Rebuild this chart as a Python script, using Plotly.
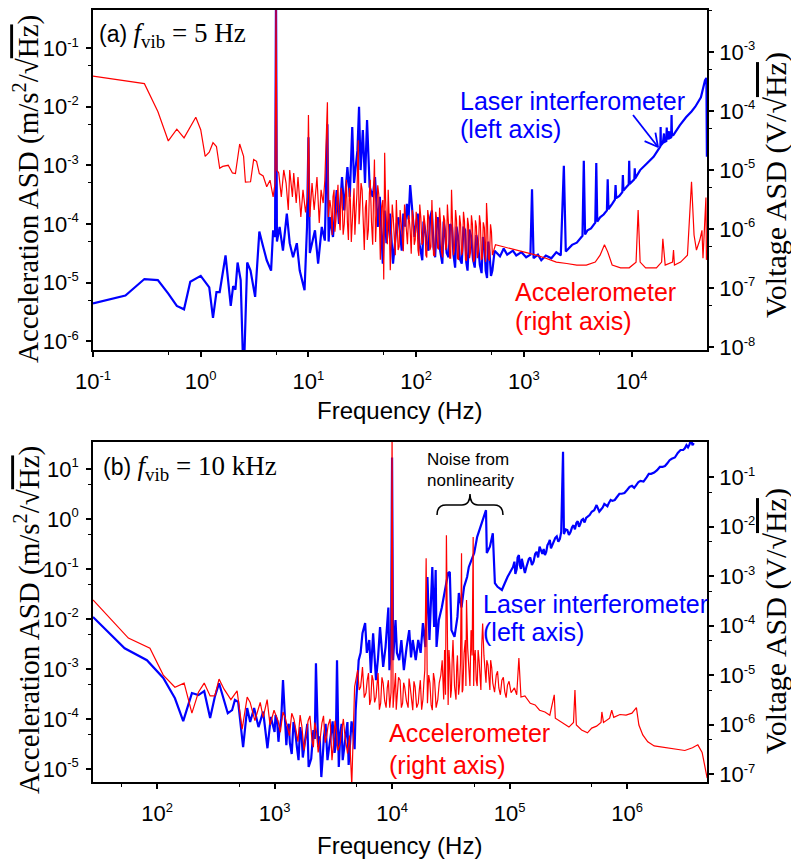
import plotly.graph_objects as go

W, H = 791, 862

# ---------------- Panel (a): f_vib = 5 Hz ----------------
# Laser interferometer (left axis, m/s^2/sqrt(Hz))
fa_las_low = [0.1, 0.2, 0.3, 0.4, 0.5, 0.6, 0.7, 0.8, 1.0, 1.2, 1.3, 1.4, 1.5, 1.7, 1.9, 2.0, 2.1, 2.2, 2.35, 2.5,
              2.7, 2.9, 3.2, 3.5, 3.8, 4.1, 4.5, 4.7, 4.9, 5.0, 5.1]
aa_las_low = [4.4e-6, 6e-6, 1.15e-5, 1.1e-5, 6.5e-6, 4e-6, 3.5e-6, 1.03e-5, 1.3e-5, 8.3e-6, 2.5e-6, 6.9e-6, 6.9e-6, 2.9e-5, 4e-6, 8.7e-6, 7.6e-6, 2.2e-5, 1.1e-5, 2e-7,
              2.2e-5, 1.6e-5, 5.7e-6, 7.4e-5, 4.1e-5, 2.4e-5, 1.6e-5, 7.8e-5, 6e-5, 1.0, 5e-5]
fa_las_mid = [5.4, 5.8, 6.3, 6.7, 7.2, 7.8, 8.3, 9.2, 9.7, 10.0, 10.3, 10.8, 11.5, 12.3, 13.3, 14.2, 15.0, 15.4, 15.8, 16.9,
              18.3, 19.2, 20.5, 21.5, 23, 24.2, 25.5, 26.5, 28.5, 29.5, 30.5, 32, 33.5, 35, 37, 39.5, 41.5, 44, 46, 49,
              51, 53, 55, 57, 61, 66, 71, 76, 82, 88, 93, 100, 107, 114, 120, 130, 140, 150, 160, 175,
              185, 200, 215, 230, 245, 265, 285, 300, 325, 350, 375, 405, 430, 455, 480, 510, 535]
aa_las_mid = [8.9e-5, 3.5e-5, 1.5e-4, 4.7e-5, 2.7e-5, 4.7e-5, 1.6e-5, 7.4e-6, 8.9e-5, 3e-3, 3.2e-5, 4.7e-5, 7.8e-5, 2.1e-5, 8.9e-5, 5.2e-5, 5e-3, 5e-5, 1.3e-4, 6e-5,
              3.8e-4, 1.0e-4, 6.3e-4, 1.7e-4, 9.3e-4, 2.9e-4, 4.5e-3, 5e-4, 1.8e-3, 1e-2, 8.3e-4, 4e-3, 5e-4, 5.9e-3, 4.3e-4, 2.9e-4, 6.3e-4, 8.9e-5, 2.9e-4, 2.1e-5,
              1.7e-4, 4.7e-5, 8.9e-5, 1.5e-4, 2.1e-5, 1.0e-4, 6e-5, 1.5e-4, 2.2e-4, 4.6e-4, 1.7e-4, 1.0e-4, 4.7e-5, 2.4e-5, 8.9e-5, 3.5e-5, 1.7e-4, 2.7e-5, 1.3e-4, 2.1e-5,
              7.8e-5, 2.7e-5, 8.9e-5, 1.8e-5, 6e-5, 2.1e-5, 7.8e-5, 1.6e-5, 6e-5, 1.8e-5, 4.7e-5, 1.45e-5, 4.7e-5, 1.2e-5, 3.2e-5, 1.6e-5, 3.5e-5]
fa_las_mid2 = [63, 68.5, 73.5, 79, 85, 90.5, 96.5, 103.5, 110.5, 117, 125, 135, 145, 155, 167, 180, 192, 207, 222, 237,
               255, 275, 292, 312, 337, 362, 390, 417, 442, 467, 495]
aa_las_mid2 = [4e-5, 1.3e-4, 3.5e-5, 9e-5, 1.2e-4, 2.5e-4, 6e-5, 1.5e-4, 3e-5, 1.1e-4, 5e-5, 1.3e-4, 4e-5, 1.0e-4, 3.5e-5, 1.1e-4, 3.2e-5, 1.0e-4, 3e-5, 9e-5,
               2.5e-5, 9e-5, 2.2e-5, 8e-5, 2.5e-5, 6.5e-5, 2e-5, 6e-5, 1.6e-5, 5e-5, 1.3e-5]
fa_las_high = [600, 650, 700, 790, 850, 950, 1050, 1150, 1190, 1230, 1350, 1450, 1600, 1800, 2000, 2200, 2350, 2450, 2600, 2800,
               3100, 3350, 3500, 3600, 3700, 3900, 4200, 4600, 4700, 4800, 5100, 5500, 5900, 6000, 6100, 6600, 7000, 7100, 7200, 7700,
               8200, 8300, 8400, 9000, 9400, 9500, 9600, 10600, 10700, 10800, 12000, 14000, 16000, 17500, 18500, 18600, 18700, 19500, 20000, 20200,
               21000, 21200, 21400, 22300, 22500, 23300, 23500, 23700, 24500, 28000, 32000, 36000, 39000, 44000, 48000, 49500, 50000]
aa_las_high = [2.8e-5, 3.8e-5, 3e-5, 3.5e-5, 2.9e-5, 3.3e-5, 2.7e-5, 3e-5, 3.9e-4, 2.6e-5, 3e-5, 2.4e-5, 2.9e-5, 2.6e-5, 3.3e-5, 2.9e-5, 9.8e-4, 3.4e-5, 3.8e-5, 4.4e-5,
               4.8e-5, 5.8e-5, 6.3e-5, 1.2e-3, 6.6e-5, 7.8e-5, 8.4e-5, 1.05e-4, 1.1e-3, 1.1e-4, 1.3e-4, 1.45e-4, 1.7e-4, 5.8e-4, 1.8e-4, 2.2e-4, 2.6e-4, 4.6e-4, 2.75e-4, 3.0e-4,
               3.5e-4, 6.8e-4, 3.7e-4, 4.3e-4, 4.7e-4, 1.2e-3, 4.8e-4, 5.8e-4, 8.9e-4, 6e-4, 8.3e-4, 1.1e-3, 1.4e-3, 1.8e-3, 2.1e-3, 4.5e-3, 2.2e-3, 2.4e-3, 3.5e-3, 2.5e-3,
               2.6e-3, 4.4e-3, 2.75e-3, 3.8e-3, 2.9e-3, 3e-3, 7.2e-3, 3.2e-3, 3.3e-3, 4.8e-3, 6.6e-3, 8.3e-3, 1e-2, 1.45e-2, 2.8e-2, 3.1e-2, 1.4e-3]

# Accelerometer (right axis, V/sqrt(Hz))
fa_acc_low = [0.1, 0.3, 0.4, 0.5, 0.6, 0.7, 0.9, 1.0, 1.1, 1.2, 1.3, 1.4, 1.5, 1.6, 1.8, 1.97, 2.1, 2.3, 2.5, 2.6,
              2.9, 3.1, 3.3, 3.5, 3.8, 4.1, 4.4, 4.7, 4.9, 5.0, 5.1]
va_acc_low = [3.9e-4, 2.9e-4, 9.8e-5, 3.1e-5, 4.9e-5, 3.5e-5, 7.8e-5, 4.8e-5, 1.7e-5, 2.0e-5, 2.9e-5, 2.5e-5, 1.07e-5, 1.15e-5, 1.2e-5, 8.9e-6, 8.7e-6, 2.75e-5, 1.7e-5, 6.2e-6,
              6.3e-6, 1.5e-5, 1.4e-5, 8.7e-6, 7.9e-6, 5.2e-6, 6.7e-6, 3.5e-6, 6e-6, 6e-3, 1e-5]
fa_acc_mid = [5.3, 5.6, 5.9, 6.2, 6.5, 6.7, 7.1, 7.3, 7.7, 8.0, 8.5, 8.9, 9.4, 9.8, 10.0, 10.3, 10.8, 11.3, 12.0, 12.6,
              13.1, 13.7, 14.2, 15.0, 15.3]
va_acc_mid = [8.9e-6, 3.5e-6, 1e-5, 6e-6, 2.1e-6, 1e-5, 3.5e-6, 8.9e-6, 2.75e-6, 7.6e-6, 1.6e-6, 4.6e-6, 1.9e-6, 3.5e-6, 8.5e-5, 1.6e-6, 6e-6, 2.1e-6, 7.6e-6, 1.26e-6,
              4.6e-6, 2.75e-6, 6.7e-6, 1.4e-4, 1.6e-6]
fa_acc_dense = [15.8, 16.6, 17.3, 18.0, 18.8, 19.7, 20.5, 21.5, 22.5, 23.5, 24.5, 25.5, 26.5, 27.5, 29, 30, 31.5, 33, 34.5, 36,
                37.5, 39.5, 41, 43, 45, 46.5, 49, 50, 51, 53, 55, 57.5, 60, 62.5, 65.5, 68, 71, 74, 78, 81,
                85, 88, 92, 96, 100, 104, 108, 113, 118, 123, 128, 134, 140, 145, 152, 158, 165, 172, 180, 188,
                195, 205, 213, 222, 232, 242, 253, 264, 275, 287, 300, 313, 326, 340, 355, 370, 387, 403, 420, 440,
                450, 468, 490, 510]
va_acc_dense = [3.1e-6, 7.9e-7, 4.6e-6, 1.4e-6, 5.6e-6, 9.5e-7, 3.8e-6, 1.2e-6, 6.8e-6, 6.5e-7, 3.1e-6, 1.05e-6, 4.9e-6, 1.7e-6, 3.2e-5, 2.1e-6, 4.6e-6, 4.4e-7, 3.1e-6, 9.5e-7,
                6.8e-6, 5.4e-7, 1.5e-5, 1.7e-6, 3.8e-6, 3e-7, 3.1e-6, 1.4e-7, 1.95e-5, 9.5e-7, 4.6e-6, 2e-7, 2.6e-6, 6.5e-7, 3.1e-6, 4.4e-7, 2.1e-6, 6.5e-7, 2.6e-6, 7.9e-7,
                1.7e-6, 9.5e-7, 2.1e-6, 5.4e-7, 1.95e-6, 4.4e-7, 2.6e-6, 5.4e-7, 1.7e-6, 3.6e-7, 2.1e-6, 4.4e-7, 3.1e-6, 3.6e-7, 1.95e-6, 4.8e-7, 2.3e-6, 4.1e-7, 1.7e-6, 4.4e-7,
                2.6e-6, 3.2e-7, 4.6e-6, 3.6e-7, 2.1e-6, 3.2e-7, 1.7e-6, 3.6e-7, 1.95e-6, 3e-7, 1.55e-6, 3.2e-7, 1.7e-6, 2.75e-7, 1.4e-6, 3.2e-7, 1.7e-6, 3e-7, 1.3e-6, 2.75e-7,
                2.75e-6, 3.2e-7, 1.2e-6, 3.6e-7]
fa_acc_dense2 = [16.2, 16.9, 17.6, 18.4, 19.2, 20.1, 21.0, 22.0, 23.0, 24.0, 25.0, 26.0, 27.0, 28.2, 29.5, 30.8, 32.2, 33.8, 35.2, 36.8,
                 38.5, 40.2, 42, 44, 45.8, 47.8, 50.5, 52, 54, 56, 58.8, 61.2, 64, 66.8, 69.5, 72.5, 76, 79.5, 83, 86.5,
                 90, 94, 98, 102, 106, 110.5, 115.5, 120.5, 125.5, 131, 137, 142.5, 148.5, 155, 161.5, 168.5, 176, 184, 191.5, 200,
                 209, 217.5, 227, 237, 247.5, 258.5, 269.5, 281, 293.5, 306.5, 319.5, 333, 347.5, 362.5, 378.5, 395, 411.5, 430, 445, 459,
                 479, 500]
va_acc_dense2 = [2.2e-6, 3.5e-6, 9e-7, 3e-6, 1.6e-6, 5e-6, 8e-7, 3e-6, 1.3e-6, 5e-6, 6e-7, 2.5e-6, 8e-7, 4e-6, 1.2e-6, 6e-6, 1.1e-6, 2.3e-6, 6.5e-7, 4e-6,
                 1.3e-6, 3.5e-6, 6e-7, 5.5e-6, 1.2e-6, 2.4e-6, 9e-7, 3.2e-6, 5.5e-7, 1.9e-6, 9.5e-7, 1.6e-6, 3.6e-7, 1.5e-6, 5e-7, 1.3e-6, 4.2e-7, 1.5e-6, 5.5e-7, 1.4e-6,
                 3.8e-7, 1.5e-6, 6.5e-7, 1.3e-6, 3.5e-7, 1.55e-6, 6e-7, 1.25e-6, 3.3e-7, 1.5e-6, 5e-7, 1.2e-6, 3.5e-7, 1.45e-6, 4.5e-7, 1.25e-6, 3.3e-7, 1.4e-6, 5e-7, 1.15e-6,
                 3.2e-7, 1.3e-6, 4.6e-7, 1.4e-6, 3e-7, 1.2e-6, 4.2e-7, 1.35e-6, 2.9e-7, 1.15e-6, 4e-7, 1.2e-6, 3e-7, 1.1e-6, 4.2e-7, 1.25e-6, 3.2e-7, 1.05e-6, 4.5e-7, 1.3e-6,
                 2.9e-7, 9e-7]
fa_acc_high = [545, 670, 850, 1030, 1300, 1600, 2000, 2500, 3100, 3800, 4600, 5100, 5600, 6000, 6600, 7900, 9500, 11000, 11500, 12000,
               13500, 17000, 19000, 19500, 20500, 24000, 24500, 25000, 28500, 33000, 35000, 36000, 38000, 40000, 43000, 45000, 46000, 49000, 49500, 50000]
va_acc_high = [5.4e-7, 4.9e-7, 4.4e-7, 4.1e-7, 3.6e-7, 3.2e-7, 2.75e-7, 2.6e-7, 2.45e-7, 2.45e-7, 2.75e-7, 3.6e-7, 5.4e-7, 4.1e-7, 2.45e-7, 2.2e-7, 2.2e-7, 2.75e-7, 2.1e-6, 2.75e-7,
               2.2e-7, 2.2e-7, 2.75e-7, 6.8e-7, 2.45e-7, 2.75e-7, 4.4e-7, 2.45e-7, 2.75e-7, 3.6e-7, 3.8e-6, 6.3e-6, 7.9e-7, 4.4e-7, 6.5e-7, 9.5e-7, 3.2e-7, 3.4e-6, 3e-7, 4.4e-7]

# ---------------- Panel (b): f_vib = 10 kHz ----------------
fb_las_low = [28.5, 53, 82, 113, 142, 167, 198, 225, 252, 283, 310, 337, 400, 435, 460, 490, 540, 585, 620, 670,
              730, 800, 870, 930, 1000, 1050, 1100, 1180, 1230, 1290, 1350, 1450, 1550, 1650, 1740, 1860, 1950, 2140, 2250, 2350,
              2500, 2630, 2820, 3000, 3240, 3400, 3630, 3800, 4170, 4360, 4680, 4900]
ab_las_low = [1.1e-2, 2.6e-3, 1.5e-3, 6.6e-4, 2.6e-4, 9.1e-5, 3.3e-4, 3e-4, 3.6e-4, 1.05e-4, 2.75e-4, 5.2e-4, 1.3e-4, 1.5e-4, 2.4e-4, 2.2e-4, 2.75e-5, 1.66e-4, 8.7e-5, 1.66e-4,
              6.9e-5, 1.4e-4, 2.6e-5, 1.1e-4, 5.5e-5, 9.5e-5, 6e-5, 6e-4, 6e-5, 6.9e-5, 3.3e-5, 8.7e-5, 2.75e-5, 6.9e-5, 1.7e-5, 5.2e-5, 1.1e-5, 6e-5, 1.3e-3, 2.75e-5,
              6.9e-6, 4.4e-5, 1.5e-5, 5.2e-5, 2.1e-5, 1.5e-3, 5.2e-5, 1.5e-5, 8.7e-5, 2.75e-5, 5.2e-5, 1.5e-4]
fb_las_low2 = [1020, 1080, 1140, 1260, 1320, 1400, 1500, 1600, 1700, 1800, 1900, 2050, 2200, 2420, 2560, 2720, 2900, 3120, 3320, 3520,
               3720, 3980, 4270, 4520, 4800]
ab_las_low2 = [1.2e-4, 3.5e-5, 1.0e-4, 3e-5, 8e-5, 2e-5, 5.5e-5, 1.5e-5, 4.5e-5, 3e-5, 8e-5, 1.6e-5, 4e-5, 4.5e-5, 1.5e-5, 8e-5, 2.5e-5, 9e-5, 3e-5, 1.1e-5,
               8e-5, 3.5e-5, 1.2e-5, 9e-5, 2.5e-5]
fb_las_mid = [5100, 5200, 5400, 5600, 5900, 6100, 6400, 6600, 6900, 7300, 7600, 7900, 8400, 8800, 9300, 9500, 9800, 10000, 10200, 10700,
              11000, 11500, 12000, 12600, 13300, 14000, 14500, 15000, 15900, 16700, 17500, 18300, 19200, 20000, 20800, 22000, 22800, 23500, 23900, 25000,
              26500, 28000, 30000, 31000, 32000, 34000, 36000, 37000, 39000, 41000, 43500, 45000, 48000, 50000, 53000, 56000, 59000, 63000, 64000, 68000,
              72000, 75000, 79000, 86000, 91000, 96000]
ab_las_mid = [6.9e-4, 1.5e-3, 2.1e-3, 5.2e-3, 8.3e-3, 2.1e-3, 3.8e-3, 8.3e-4, 5.2e-3, 6e-4, 1.7e-3, 6.9e-3, 1.1e-3, 2.75e-3, 1.7e-2, 9.5e-4, 2.75e-3, 17, 1.5e-3, 9.5e-3,
              2.1e-3, 1.5e-3, 3.8e-3, 9.5e-4, 2.75e-3, 6e-3, 1.7e-3, 3.8e-3, 1.5e-3, 3.8e-3, 2.1e-3, 8.3e-3, 2.75e-3, 6.9e-2, 3.8e-3, 0.11, 6.9e-3, 9.5e-2, 2.75e-3, 9.5e-3,
              1.7e-2, 3.3e-2, 8.3e-2, 8.7e-2, 6e-3, 4.4e-3, 1.1e-2, 3.3e-2, 1.7e-2, 4.4e-2, 6.9e-2, 0.11, 0.17, 0.21, 0.44, 0.66, 0.95, 1.5, 0.21, 0.28,
              0.52, 5.2e-2, 4.4e-2, 3.8e-2, 5.2e-2, 6.9e-2]
fb_las_high = [1.07e5, 1.12e5, 1.17e5, 1.22e5, 1.27e5, 1.35e5, 1.42e5, 1.5e5, 1.6e5, 1.7e5, 1.8e5, 1.9e5, 2.0e5, 2.1e5, 2.2e5, 2.3e5, 2.45e5, 2.6e5, 2.75e5, 2.85e5,
               2.9e5, 3.1e5, 3.3e5, 3.5e5, 3.7e5, 3.9e5, 4.1e5, 4.35e5, 4.6e5, 5.0e5, 5.5e5, 5.8e5, 6.2e5, 6.6e5, 7.0e5, 7.5e5, 8.2e5, 9.0e5, 1.0e6, 1.1e6,
               1.2e6, 1.3e6, 1.47e6, 1.6e6, 1.8e6, 2.0e6, 2.2e6, 2.4e6, 2.7e6, 3.0e6, 3.2e6, 3.3e6, 3.5e6, 3.6e6, 3.7e6]
ab_las_high = [0.11, 0.08, 0.17, 0.12, 0.16, 0.083, 0.13, 0.17, 0.14, 0.22, 0.28, 0.2, 0.19, 0.3, 0.38, 0.3, 0.42, 0.35, 0.55, 22,
               0.5, 0.6, 0.55, 0.75, 0.83, 0.7, 0.95, 0.85, 1.1, 1.4, 1.9, 1.4, 1.7, 1.9, 2.1, 2.3, 2.75, 3.2, 3.8, 4.6,
               4.8, 5.8, 6.9, 8, 9.5, 11, 13, 16, 21, 24, 30, 27, 40, 30, 33]
fb_las_high2 = [1.1e5, 1.15e5, 1.2e5, 1.25e5, 1.31e5, 1.39e5, 1.46e5, 1.55e5, 1.65e5, 1.75e5, 1.85e5, 1.95e5, 2.05e5, 2.15e5, 2.25e5, 2.38e5, 2.52e5, 2.68e5, 3.0e5, 3.2e5,
                3.4e5, 3.6e5, 3.8e5, 4.0e5, 4.22e5, 4.48e5, 4.8e5, 5.25e5, 5.65e5, 6.0e5, 6.4e5, 6.8e5, 7.25e5, 7.85e5, 8.6e5, 9.5e5, 1.05e6, 1.15e6, 1.25e6, 1.38e6,
                1.53e6, 1.7e6, 1.9e6, 2.1e6, 2.3e6, 2.55e6, 2.85e6, 3.1e6, 3.4e6]
ab_las_high2 = [0.14, 0.1, 0.19, 0.1, 0.12, 0.11, 0.16, 0.12, 0.2, 0.17, 0.24, 0.25, 0.22, 0.33, 0.26, 0.36, 0.45, 0.4, 0.62, 0.48,
                0.68, 0.62, 0.9, 0.8, 1.0, 1.05, 1.2, 1.5, 1.6, 1.55, 2.0, 1.8, 2.4, 2.4, 3.2, 3.3, 4.4, 4.2, 5.5, 5.6,
                8, 8.5, 11, 11.5, 15, 17, 24, 26, 31]

fb_acc_low = [28.5, 57, 87, 113, 142, 170, 198, 225, 252, 283, 310, 337, 372, 425, 480, 530, 585, 620, 680, 755,
              800, 865, 915, 990, 1070, 1180, 1280, 1400, 1520, 1650, 1780, 1930, 2080, 2200, 2350, 2530, 2700, 2860, 3080, 3270,
              3450, 3730, 3980, 4180, 4540, 4800]
vb_acc_low = [3.3e-4, 5.6e-5, 3.5e-5, 1e-5, 5.7e-6, 6.9e-6, 1.7e-6, 4.5e-6, 6.9e-6, 3.8e-6, 3.8e-6, 8.3e-6, 5.2e-6, 3.2e-6, 4.8e-6, 8.1e-7, 3.6e-6, 2.8e-6, 1.2e-6, 2.8e-6,
              1.4e-6, 3.2e-6, 9.8e-7, 1.95e-6, 1.2e-6, 1.8e-6, 9.8e-7, 1.7e-6, 7.8e-7, 1.55e-6, 3e-7, 1.2e-6, 4.9e-7, 1.1e-6, 2.75e-7, 1.07e-6, 4.3e-7, 9.8e-7, 1.9e-7, 1.2e-6,
              3e-7, 8.9e-7, 5.6e-7, 2.6e-7, 6e-8, 5.8e-6]
fb_acc_low2 = [1030, 1120, 1230, 1340, 1460, 1580, 1710, 1850, 2000, 2140, 2280, 2440, 2610, 2780, 2970, 3170, 3360, 3600, 3850, 4080,
               4350]
vb_acc_low2 = [1.5e-6, 7e-7, 1.4e-6, 6e-7, 1.3e-6, 4.5e-7, 9e-7, 6e-7, 1.5e-6, 3.5e-7, 7e-7, 5e-7, 1.5e-6, 6e-7, 1.3e-6, 4e-7, 7e-7, 4e-7, 1.3e-6, 3.5e-7,
               6e-7]
fb_acc_mid = [5100, 5400, 5600, 6000, 6300, 6600, 6900, 7300, 7600, 8000, 8400, 8900, 9300, 9800, 10000, 10200, 10700, 11000, 11700, 12300,
              12800, 13700, 14200, 15000, 15700, 16700, 17400, 18300, 19000, 19500, 20000, 21000, 22000, 23000, 24500]
vb_acc_mid = [1.26e-5, 5.8e-6, 1.45e-5, 4.4e-6, 1.1e-5, 3.2e-6, 7.9e-6, 3.6e-6, 1.1e-5, 2.7e-6, 6.9e-6, 2.2e-6, 7.9e-6, 4.4e-6, 1.0, 2.2e-6, 1.1e-5, 3.6e-6, 7.9e-6, 2.7e-6,
              5.8e-6, 2.2e-6, 6.3e-6, 1.95e-6, 5.8e-6, 2.7e-6, 7.9e-6, 3.2e-6, 1.26e-5, 2.3e-3, 2.7e-6, 6.9e-6, 1.95e-6, 7.9e-6, 3.2e-6]
fb_acc_mid2 = [5250, 5500, 5800, 6150, 6450, 6750, 7100, 7450, 7800, 8200, 8650, 9100, 9550, 10450, 10850, 11350, 12000, 12550, 13250, 13950,
               14600, 15350, 16200, 17050, 17850, 18650, 20500, 21500, 22500, 23700, 25200, 26700, 28500, 29500, 30500, 31500, 32500, 34000, 35500, 36800,
               38200, 39500, 41000, 42500, 44000, 46000, 48000, 49500, 51000, 53000, 55000, 57000, 60500, 63000, 65500, 68000, 70500, 74500, 79000, 83500,
               88500, 93500, 99000]
vb_acc_mid2 = [5e-6, 9e-6, 3.5e-6, 8e-6, 2.5e-6, 1e-5, 2.8e-6, 6.5e-6, 2e-6, 9e-6, 3e-6, 5.5e-6, 2.2e-6, 5e-6, 2e-6, 9e-6, 2.2e-6, 7e-6, 3e-6, 8.5e-6,
               2.8e-6, 7.5e-6, 2.2e-6, 5e-6, 2e-6, 7e-6, 1e-5, 2.5e-6, 1.1e-5, 2.2e-6, 7e-6, 2e-5, 4e-6, 1.5e-5, 3.2e-5, 3.5e-6, 2.2e-5, 6e-6, 1.5e-5, 4e-6,
               1.7e-5, 4.5e-6, 2.8e-5, 6e-6, 3.5e-5, 6e-6, 2.5e-5, 6e-6, 3.2e-5, 6e-6, 2e-5, 5e-6, 2.5e-5, 7e-6, 1.6e-5, 5e-6, 1.4e-5, 4.5e-6, 1.2e-5, 4e-6,
               9e-6, 3.5e-6, 7.5e-6]
fb_acc_high = [26000, 27500, 28000, 29000, 30000, 31000, 32000, 33000, 35000, 36000, 37500, 39000, 40000, 42000, 43000, 45000, 47000, 49000, 50000, 52000,
               54000, 56000, 58000, 59000, 62000, 64000, 67000, 69000, 72000, 77000, 81000, 86000, 91000, 96000, 1.03e5, 1.1e5, 1.15e5, 1.2e5, 1.25e5, 1.35e5,
               1.5e5, 1.65e5, 1.8e5, 2.0e5, 2.2e5, 2.4e5, 2.45e5, 2.6e5, 2.9e5, 3.2e5, 3.5e5, 3.6e5, 3.7e5, 4.1e5, 4.6e5, 5.0e5, 5.5e5, 6.0e5, 6.1e5, 6.3e5,
               7.1e5, 7.4e5, 7.7e5, 8.7e5, 9.8e5, 1.1e6, 1.2e6, 1.26e6, 1.36e6, 1.5e6, 1.7e6, 2.1e6, 2.6e6, 3.1e6, 3.6e6, 4.0e6, 4.35e6, 4.6e6, 4.8e6]
vb_acc_high = [1e-5, 3.2e-6, 3.2e-5, 6.7e-3, 2.5e-6, 1.6e-5, 5e-6, 5.1e-5, 3.2e-6, 2.5e-5, 6.3e-6, 2.9e-3, 5e-6, 5.1e-5, 3.3e-4, 1.26e-5, 8.1e-5, 6.2e-3, 2e-5, 7.9e-6,
               3.2e-5, 1.15e-5, 4.1e-5, 1.1e-4, 1.26e-5, 2e-5, 7.9e-6, 2e-5, 6.9e-6, 1e-5, 5.5e-6, 7.9e-6, 4.6e-6, 6.3e-6, 4.4e-6, 5.5e-6, 4e-6, 2.2e-5, 3.6e-6, 3.8e-6,
               2.7e-6, 2.5e-6, 1.95e-6, 1.8e-6, 1.55e-6, 4e-6, 1.35e-6, 1.23e-6, 1.02e-6, 8.9e-7, 1.1e-6, 5e-6, 9.8e-7, 7.8e-7, 6.8e-7, 8.5e-7, 9.3e-7, 1.1e-6, 1.8e-6, 1.1e-6,
               1.35e-6, 1.95e-6, 1.4e-6, 1.6e-6, 1.55e-6, 1.7e-6, 2.2e-6, 9.8e-7, 6.2e-7, 4.5e-7, 3.7e-7, 3.4e-7, 3.2e-7, 3e-7, 3.4e-7, 3.9e-7, 2.75e-7, 1.5e-7, 8.3e-8]

# ---------------- Tick labels ----------------
xa_tickvals = [0.1, 1, 10, 100, 1e3, 1e4]
xa_exps = ["-1", "0", "1", "2", "3", "4"]
ya_l_tickvals = [1e-6, 1e-5, 1e-4, 1e-3, 1e-2, 1e-1]
ya_l_exps = ["-6", "-5", "-4", "-3", "-2", "-1"]
ya_r_tickvals = [1e-8, 1e-7, 1e-6, 1e-5, 1e-4, 1e-3]
ya_r_exps = ["-8", "-7", "-6", "-5", "-4", "-3"]
xb_tickvals = [1e2, 1e3, 1e4, 1e5, 1e6]
xb_exps = ["2", "3", "4", "5", "6"]
yb_l_tickvals = [1e-5, 1e-4, 1e-3, 1e-2, 1e-1, 1, 10]
yb_l_exps = ["-5", "-4", "-3", "-2", "-1", "0", "1"]
yb_r_tickvals = [1e-7, 1e-6, 1e-5, 1e-4, 1e-3, 1e-2, 1e-1]
yb_r_exps = ["-7", "-6", "-5", "-4", "-3", "-2", "-1"]

xa_minor = [0.5, 5, 50, 500, 5000]
ya_l_minor = [5e-6, 5e-5, 5e-4, 5e-3, 5e-2]
ya_r_minor = [5e-8, 5e-7, 5e-6, 5e-5, 5e-4, 5e-3]
xb_minor = [50, 500, 5e3, 5e4, 5e5]
yb_l_minor = [5e-6, 5e-5, 5e-4, 5e-3, 5e-2, 5e-1, 5]
yb_r_minor = [5e-7, 5e-6, 5e-5, 5e-4, 5e-3, 5e-2]

BLUE = "#0000ff"
RED = "#ff0000"
SANS = "Liberation Sans, Arial, sans-serif"
SERIF = "Liberation Serif, Times New Roman, serif"


def labels(exps):
    return ["10<sup><span style='font-size:13px'>" + e + "</span></sup>" for e in exps]


def merge(freq_lists, val_lists):
    pairs = sorted(zip([f for fl in freq_lists for f in fl], [v for vl in val_lists for v in vl]))
    return [p[0] for p in pairs], [p[1] for p in pairs]


xa_l, ya_l = merge([fa_las_low, fa_las_mid, fa_las_mid2, fa_las_high], [aa_las_low, aa_las_mid, aa_las_mid2, aa_las_high])
xa_r, ya_r = merge([fa_acc_low, fa_acc_mid, fa_acc_dense, fa_acc_dense2, fa_acc_high],
                   [va_acc_low, va_acc_mid, va_acc_dense, va_acc_dense2, va_acc_high])
xb_l, yb_l = merge([fb_las_low, fb_las_low2, fb_las_mid, fb_las_high, fb_las_high2],
                   [ab_las_low, ab_las_low2, ab_las_mid, ab_las_high, ab_las_high2])
xb_r, yb_r = merge([fb_acc_low, fb_acc_low2, fb_acc_mid, fb_acc_mid2, fb_acc_high],
                   [vb_acc_low, vb_acc_low2, vb_acc_mid, vb_acc_mid2, vb_acc_high])

fig = go.Figure()
fig.add_trace(go.Scatter(x=xa_l, y=ya_l, xaxis="x", yaxis="y", mode="lines", line=dict(color=BLUE, width=2.2)))
fig.add_trace(go.Scatter(x=xa_r, y=ya_r, xaxis="x", yaxis="y2", mode="lines", line=dict(color=RED, width=1.2)))
fig.add_trace(go.Scatter(x=xb_l, y=yb_l, xaxis="x2", yaxis="y3", mode="lines", line=dict(color=BLUE, width=2.2)))
fig.add_trace(go.Scatter(x=xb_r, y=yb_r, xaxis="x2", yaxis="y4", mode="lines", line=dict(color=RED, width=1.2)))
fig.update_traces(showlegend=False, hoverinfo="skip")


def axis(tickvals, exps, minor, rng, standoff, **kw):
    d = dict(type="log", range=rng, showline=True, linecolor="black", linewidth=1.6, automargin=False,
             ticks="outside", ticklen=5, tickwidth=1.5, tickcolor="black", ticklabelstandoff=standoff,
             showgrid=False, zeroline=False, tickmode="array", tickvals=tickvals, ticktext=labels(exps),
             tickfont=dict(family=SANS, size=22, color="black"),
             minor=dict(tickmode="array", tickvals=minor, ticks="outside", ticklen=3, tickwidth=1.2, tickcolor="black", showgrid=False))
    d.update(kw)
    return d


xdom = [93 / W, 707 / W]
ydom_a = [1 - 350 / H, 1 - 10 / H]
ydom_b = [1 - 782 / H, 1 - 442 / H]

fig.update_layout(
    width=W, height=H, autosize=False, margin=dict(l=0, r=0, t=0, b=0, pad=0),
    paper_bgcolor="white", plot_bgcolor="white", hovermode=False, showlegend=False,
    xaxis=axis(xa_tickvals, xa_exps, xa_minor, [-1, 4.70], 6, domain=xdom, anchor="y", mirror=True),
    yaxis=axis(ya_l_tickvals, ya_l_exps, ya_l_minor, [-6.15, -0.35], 3, domain=ydom_a, anchor="x"),
    yaxis2=axis(ya_r_tickvals, ya_r_exps, ya_r_minor, [-8.05, -2.29], 1, overlaying="y", anchor="x", side="right"),
    xaxis2=axis(xb_tickvals, xb_exps, xb_minor, [1.455, 6.68], 6, domain=xdom, anchor="y3", mirror=True),
    yaxis3=axis(yb_l_tickvals, yb_l_exps, yb_l_minor, [-5.26, 1.54], 3, domain=ydom_b, anchor="x2"),
    yaxis4=axis(yb_r_tickvals, yb_r_exps, yb_r_minor, [-7.16, -0.29], 1, overlaying="y3", anchor="x2", side="right"),
)


def P(px, py):
    return px / W, 1 - py / H


annots = []


def text(s, px, py, size, color="black", family=SANS, xanchor="left", angle=0):
    x, y = P(px, py)
    annots.append(dict(text=s, x=x, y=y, xref="paper", yref="paper", showarrow=False,
                       xanchor=xanchor, yanchor="middle", textangle=angle,
                       font=dict(family=family, size=size, color=color)))


sqrtHz = "√<span style='text-decoration:overline'>Hz</span>"
acc_title = "Acceleration ASD (m/s<sup>2</sup>/" + sqrtHz + ")"
volt_title = "Voltage ASD (V/" + sqrtHz + ")"

# axis titles
text(acc_title, 27, 189, 29, family=SERIF, xanchor="center", angle=-90)
text(volt_title, 776, 185, 30, family=SERIF, xanchor="center", angle=-90)
text(acc_title, 27, 620, 29, family=SERIF, xanchor="center", angle=-90)
text(volt_title, 776, 621, 30, family=SERIF, xanchor="center", angle=-90)
text("Frequency (Hz)", 400, 410, 24, xanchor="center")
text("Frequency (Hz)", 400, 845, 24, xanchor="center")

# panel labels
text("(a) <span style='font-family:Liberation Serif;font-size:27px'><i>f</i><sub>vib</sub> = 5 Hz</span>", 97, 35, 23)
text("(b) <span style='font-family:Liberation Serif;font-size:27px'><i>f</i><sub>vib</sub> = 10 kHz</span>", 101, 468, 23)

# series labels
text("Laser interferometer", 458, 101, 25, BLUE)
text("(left axis)", 458, 129, 25, BLUE)
text("Accelerometer", 513, 292, 25, RED)
text("(right axis)", 513, 321, 25, RED)
text("Laser interferometer", 481, 604, 25, BLUE)
text("(left axis)", 481, 632, 25, BLUE)
text("Accelerometer", 387, 733, 25, RED)
text("(right axis)", 387, 765, 25, RED)
text("Noise from", 425, 459, 17)
text("nonlinearity", 425, 480, 17)

fig.update_layout(annotations=annots)

# arrow (shaft + open head) and brace
shapes = []


def seg(p0, p1, color, width):
    x0, y0 = P(*p0)
    x1, y1 = P(*p1)
    shapes.append(dict(type="line", xref="paper", yref="paper", x0=x0, y0=y0, x1=x1, y1=y1,
                       line=dict(color=color, width=width)))


seg((633, 115), (658, 147), BLUE, 1.8)
seg((658, 147), (644.6, 141.1), BLUE, 1.8)
seg((658, 147), (655.4, 132.6), BLUE, 1.8)

brace_pts = [("M", 437, 515), ("Q", 437, 505, 446, 505), ("L", 462, 505), ("Q", 470, 505, 470, 494),
             ("Q", 470, 505, 478, 505), ("L", 494, 505), ("Q", 503, 505, 503, 515)]
path = ""
for item in brace_pts:
    cmd, coords = item[0], item[1:]
    pts = []
    for i in range(0, len(coords), 2):
        x, y = P(coords[i], coords[i + 1])
        pts.append(f"{x:.5f},{y:.5f}")
    path += cmd + " " + " ".join(pts) + " "
shapes.append(dict(type="path", path=path.strip(), xref="paper", yref="paper", line=dict(color="black", width=1.5)))

fig.update_layout(shapes=shapes)

fig.write_html("out.html")
